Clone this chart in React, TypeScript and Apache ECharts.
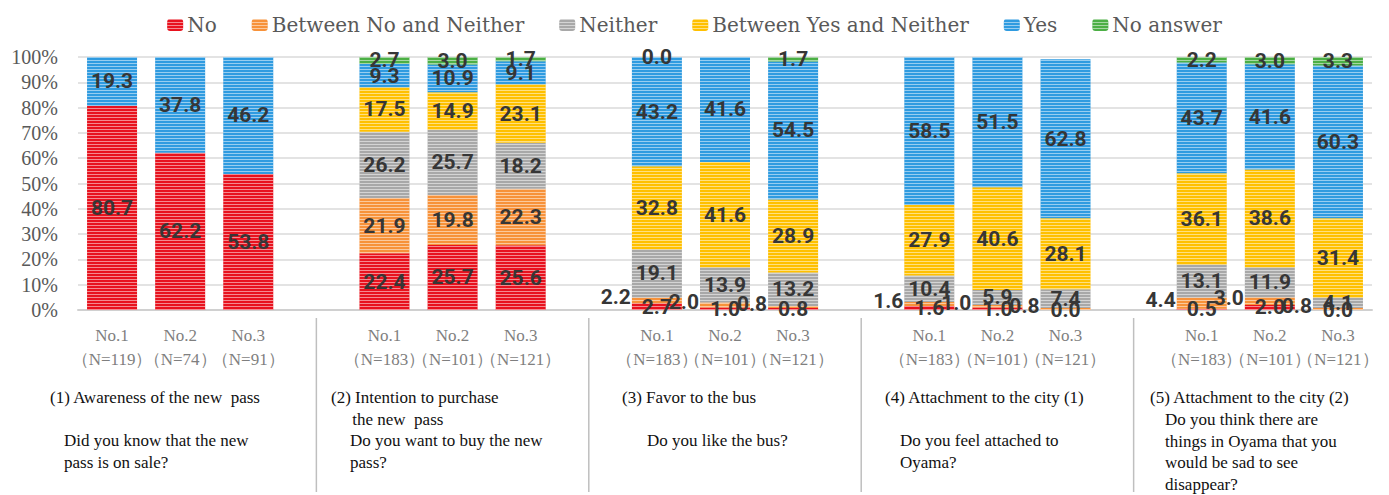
import React, { useEffect, useRef } from "react";
import * as echarts from "echarts";

const seriesNames = ["No", "Between No and Neither", "Neither", "Between Yes and Neither", "Yes", "No answer"];
const seriesColors = ["#E8121E", "#F7923A", "#A8A8A8", "#FFC000", "#2F9BE0", "#4CAF45"];

const categories = [
  "No.1\n（N=119）", "No.2\n（N=74）", "No.3\n（N=91）", "",
  "No.1\n（N=183）", "No.2\n（N=101）", "No.3\n（N=121）", "",
  "No.1\n（N=183）", "No.2\n（N=101）", "No.3\n（N=121）", "",
  "No.1\n（N=183）", "No.2\n（N=101）", "No.3\n（N=121）", "",
  "No.1\n（N=183）", "No.2\n（N=101）", "No.3\n（N=121）",
];

// values per group (3 bars per group, 5 groups)
const noVals = [80.7, 62.2, 53.8, 22.4, 25.7, 25.6, 2.7, 1.0, 0.8, 1.6, 1.0, 0.0, 0.5, 2.0, 0.0];
const betweenNoVals = [null, null, null, 21.9, 19.8, 22.3, 2.2, 2.0, 0.8, 1.6, 1.0, 0.8, 4.4, 3.0, 0.8];
const neitherVals = [null, null, null, 26.2, 25.7, 18.2, 19.1, 13.9, 13.2, 10.4, 5.9, 7.4, 13.1, 11.9, 4.1];
const betweenYesVals = [null, null, null, 17.5, 14.9, 23.1, 32.8, 41.6, 28.9, 27.9, 40.6, 28.1, 36.1, 38.6, 31.4];
const yesVals = [19.3, 37.8, 46.2, 9.3, 10.9, 9.1, 43.2, 41.6, 54.5, 58.5, 51.5, 62.8, 43.7, 41.6, 60.3];
const noAnswerVals = [null, null, null, 2.7, 3.0, 1.7, 0.0, 0.0, 1.7, null, null, null, 2.2, 3.0, 3.3];

// groups whose "Between No and Neither" label sits to the left of the bar
const leftLabelGroups = [2, 3, 4];

const yTicks = [0, 10, 20, 30, 40, 50, 60, 70, 80, 90, 100];

const groupTitles = [
  { title: "(1) Awareness of the new  pass", question: "Did you know that the new\npass is on sale?", tx: 50, qx: 64, qy: 430 },
  { title: "(2) Intention to purchase\n     the new  pass", question: "Do you want to buy the new\npass?", tx: 331, qx: 350, qy: 430 },
  { title: "(3) Favor to the bus", question: "Do you like the bus?", tx: 622, qx: 647, qy: 430 },
  { title: "(4) Attachment to the city (1)", question: "Do you feel attached to\nOyama?", tx: 885, qx: 900, qy: 430 },
  { title: "(5) Attachment to the city (2)", question: "Do you think there are\nthings in Oyama that you\nwould be sad to see\ndisappear?", tx: 1150, qx: 1165, qy: 409 },
];

const serif = "'Liberation Serif', serif";

function spread(vals: (number | null)[]) {
  const out: (number | null)[] = [];
  vals.forEach((v, i) => {
    if (i > 0 && i % 3 === 0) out.push(null);
    out.push(v);
  });
  return out;
}

export default function App() {
  const ref = useRef<HTMLDivElement>(null);
  useEffect(() => {
    if (!ref.current) return;
    const chart = echarts.init(ref.current, undefined, { renderer: "svg" });
    const all = [noVals, betweenNoVals, neitherVals, betweenYesVals, yesVals, noAnswerVals];
    const labelBase = {
      show: true,
      position: "inside",
      color: "#363636",
      fontFamily: "Roboto, sans-serif",
      fontWeight: "bold",
      fontSize: 21,
      formatter: (p: any) => (p.value == null ? "" : Number(p.value).toFixed(1)),
    };
    const series = all.map((vals, si) => {
      const data = spread(vals).map((v, idx) => {
        if (v == null) return null;
        const g = Math.floor(idx / 4);
        if (si === 1 && leftLabelGroups.includes(g)) {
          return { value: v, label: { position: "left", distance: 1, offset: [0, -3] } };
        }
        return v;
      });
      return {
        name: seriesNames[si],
        type: "bar",
        stack: "total",
        barWidth: 50,
        data,
        itemStyle: {
          color: seriesColors[si],
          decal: {
            symbol: "rect",
            symbolSize: 1,
            symbolKeepAspect: false,
            color: "rgba(255,255,255,0.5)",
            dashArrayX: [[8, 0]],
            dashArrayY: [1, 1.4],
            rotation: 0,
          },
        },
        label: labelBase,
      };
    });

    chart.setOption({
      animation: false,
      legend: {
        top: 10,
        left: "center",
        itemWidth: 16,
        itemHeight: 12,
        itemGap: 35,
        textStyle: { fontFamily: "'DejaVu Serif', serif", fontSize: 20, color: "#595959", padding: [0, 0, 0, -1] },
        data: seriesNames,
      },
      grid: { left: 78, right: 17, top: 57, bottom: 185, containLabel: false },
      xAxis: {
        type: "category",
        data: categories,
        axisTick: { show: false },
        axisLine: { lineStyle: { color: "#D0D0D0", width: 2 } },
        axisLabel: {
          interval: 0,
          margin: 13,
          fontFamily: serif,
          fontSize: 17,
          lineHeight: 24,
          color: "#7F7F7F",
        },
      },
      yAxis: {
        type: "value",
        min: yTicks[0],
        max: yTicks[yTicks.length - 1],
        interval: 10,
        axisLabel: {
          formatter: "{value}%",
          fontFamily: serif,
          fontSize: 20,
          color: "#595959",
          margin: 20,
        },
        splitLine: { lineStyle: { color: "#E3E3E3", width: 2 } },
      },
      series,
    });

    const graphics: any[] = [];
    [3, 7, 11, 15].forEach((ci) => {
      const x = chart.convertToPixel({ xAxisIndex: 0 }, ci) as number;
      graphics.push({
        type: "line",
        shape: { x1: x, y1: 318, x2: x, y2: 492 },
        style: { stroke: "#BFBFBF", lineWidth: 1.5 },
      });
    });
    groupTitles.forEach((g) => {
      graphics.push({
        type: "text",
        x: g.tx,
        y: 387,
        style: { text: g.title, fontFamily: serif, fontSize: 17, lineHeight: 21.5, fill: "#111" },
      });
      graphics.push({
        type: "text",
        x: g.qx,
        y: g.qy,
        style: { text: g.question, fontFamily: serif, fontSize: 17, lineHeight: 21.5, fill: "#111" },
      });
    });
    chart.setOption({ graphic: graphics });

    return () => chart.dispose();
  }, []);
  return <div ref={ref} style={{ width: 1389, height: 495, position: "absolute", left: 0, top: 0 }} />;
}
